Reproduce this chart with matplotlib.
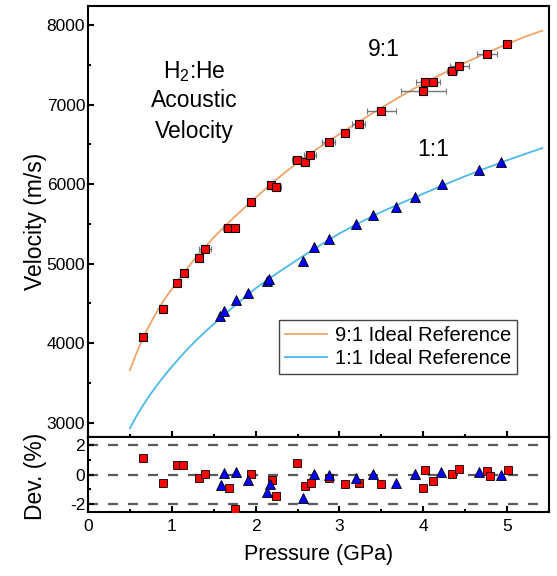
import numpy as np
import matplotlib
matplotlib.use('Agg')
import matplotlib.pyplot as plt
from matplotlib.ticker import MultipleLocator

plt.rcParams['font.family'] = ['Liberation Sans', 'DejaVu Sans']
plt.rcParams['mathtext.fontset'] = 'custom'
plt.rcParams['mathtext.rm'] = 'Liberation Sans'
plt.rcParams['mathtext.it'] = 'Liberation Sans:italic'

# 9:1 mixture - measured velocities (red squares)
p_91 = [0.66, 0.89, 1.06, 1.14, 1.32, 1.40, 1.67, 1.75, 1.94, 2.18, 2.24, 2.49, 2.59,
        2.65, 2.87, 3.07, 3.23, 3.50, 4.00, 4.02, 4.11, 4.34, 4.43, 4.76, 5.00]
v_91 = [4079, 4428, 4751, 4877, 5073, 5179, 5450, 5450, 5775, 5992, 5958, 6305, 6281,
        6365, 6532, 6645, 6755, 6915, 7170, 7279, 7279, 7425, 7488, 7631, 7757]
perr_91 = [0.0, 0.03, 0.03, 0.03, 0.03, 0.07, 0.06, 0.04, 0.04, 0.04, 0.06, 0.06, 0.05,
           0.07, 0.08, 0.04, 0.08, 0.17, 0.27, 0.11, 0.09, 0.06, 0.11, 0.12, 0.05]

# 1:1 mixture - measured velocities (blue triangles)
p_11 = [1.58, 1.62, 1.76, 1.91, 2.13, 2.16, 2.56, 2.70, 2.88, 3.20, 3.40, 3.67,
        3.90, 4.22, 4.66, 4.93]
v_11 = [4340, 4406, 4541, 4633, 4780, 4805, 5031, 5212, 5304, 5493, 5610, 5707,
        5840, 5996, 6176, 6273]

# ideal reference curves
p_ref91 = [0.50, 0.55, 0.60, 0.65, 0.70, 0.75, 0.80, 0.85, 0.90, 0.95, 1.00, 1.125,
           1.25, 1.375, 1.50, 1.625, 1.75, 1.875, 2.00, 2.125, 2.25, 2.375, 2.50,
           2.75, 3.00, 3.25, 3.50, 3.75, 4.00, 4.25, 4.50, 4.75, 5.00, 5.21, 5.42]
v_ref91 = [3660, 3800, 3930, 4050, 4160, 4260, 4355, 4445, 4530, 4608, 4680, 4860,
           5030, 5185, 5330, 5463, 5590, 5712, 5830, 5947, 6060, 6167, 6270,
           6455, 6630, 6798, 6960, 7117, 7265, 7400, 7528, 7648, 7762, 7852, 7930]
p_ref11 = [0.50, 0.55, 0.60, 0.65, 0.70, 0.75, 0.80, 0.85, 0.90, 0.95, 1.00, 1.10,
           1.20, 1.30, 1.40, 1.50, 1.625, 1.75, 1.875, 2.00, 2.25, 2.50, 2.75, 3.00,
           3.25, 3.50, 3.75, 4.00, 4.25, 4.50, 4.75, 5.00, 5.21, 5.42]
v_ref11 = [2930, 3030, 3122, 3208, 3289, 3366, 3439, 3509, 3576, 3641, 3704, 3825,
           3939, 4046, 4146, 4240, 4357, 4471, 4581, 4690, 4876, 5050, 5220, 5380,
           5520, 5650, 5768, 5880, 5992, 6100, 6202, 6300, 6378, 6453]

# deviations (%)
pd_91 = [0.66, 0.89, 1.06, 1.13, 1.32, 1.40, 1.68, 1.75, 1.94, 2.20, 2.24, 2.49, 2.59,
         2.66, 2.87, 3.06, 3.23, 3.50, 4.00, 4.02, 4.11, 4.34, 4.42, 4.76, 4.79, 5.01]
dev_91 = [1.14, -0.55, 0.68, 0.68, -0.23, 0.05, -0.92, -2.33, 0.07, -0.39, -1.49, 0.80,
          -0.80, -0.55, -0.27, -0.62, -0.55, -0.62, -0.89, 0.29, -0.46, 0.02, 0.36,
          0.23, -0.10, 0.29]
pd_11 = [1.59, 1.62, 1.76, 1.91, 2.14, 2.17, 2.57, 2.70, 2.88, 3.20, 3.40, 3.68,
         3.90, 4.21, 4.66, 4.93]
dev_11 = [-0.69, 0.11, 0.18, -0.39, -1.19, -0.62, -1.60, 0.07, -0.05, -0.23, 0.02,
          -0.55, 0.02, 0.14, 0.18, 0.0]

orange = '#EFA468'
blue = '#4BB9E9'

fig = plt.figure(figsize=(5.57, 5.76), dpi=100)
ax = fig.add_axes([0.158, 0.2413, 0.8277, 0.7483])
ax2 = fig.add_axes([0.158, 0.111, 0.8277, 0.1303])

ax.plot(p_ref91, v_ref91, color=orange, lw=1.3, label='9:1 Ideal Reference', zorder=2)
ax.plot(p_ref11, v_ref11, color=blue, lw=1.3, label='1:1 Ideal Reference', zorder=2)
ax.errorbar(p_91, v_91, xerr=perr_91, fmt='s', ms=5.5, mfc='#FF0000', mec='black', mew=0.8,
            ecolor='#777777', elinewidth=1, capsize=2.5, capthick=1, zorder=3)
ax.plot(p_11, v_11, '^', ms=6.5, mfc='#0000FF', mec='black', mew=0.6, zorder=3)

ax.text(0.23, 0.847, 'H$_2$:He', transform=ax.transAxes, ha='center', va='center', fontsize=16.5)
ax.text(0.23, 0.780, 'Acoustic', transform=ax.transAxes, ha='center', va='center', fontsize=16.5)
ax.text(0.23, 0.708, 'Velocity', transform=ax.transAxes, ha='center', va='center', fontsize=16.5)
ax.text(0.642, 0.90, '9:1', transform=ax.transAxes, ha='center', va='center', fontsize=16.5)
ax.text(0.748, 0.668, '1:1', transform=ax.transAxes, ha='center', va='center', fontsize=16.5)

leg = ax.legend(loc='lower right', bbox_to_anchor=(0.931, 0.146), fontsize=14.5,
                frameon=True, fancybox=False, edgecolor='#444444', framealpha=1,
                handlelength=2.1, handletextpad=0.4, borderpad=0.3, labelspacing=0.2,
                borderaxespad=0)
leg.get_frame().set_linewidth(1.0)

ax.set_xlim(0, 5.5)
ax.set_ylim(2820, 8240)
ax.set_ylabel('Velocity (m/s)', fontsize=16.5)
ax.yaxis.set_label_coords(-0.09, 0.5)
ax.tick_params(labelbottom=False)

for d in [-2, 0, 2]:
    ax2.axhline(d, color='#5a5a5a', lw=1.6, ls=(0, (4.5, 4.5)), zorder=1)
ax2.plot(pd_91, dev_91, 's', ms=5.5, mfc='#FF0000', mec='black', mew=0.6, zorder=3)
ax2.plot(pd_11, dev_11, '^', ms=6.5, mfc='#0000FF', mec='black', mew=0.6, zorder=3)
ax2.set_xlim(0, 5.5)
ax2.set_ylim(-2.57, 2.57)
ax2.set_yticks([-2, 0, 2])
ax2.set_yticklabels(['-2', '0', '2'])
ax2.set_ylabel('Dev. (%)', fontsize=16.5)
ax2.yaxis.set_label_coords(-0.09, 0.48)
ax2.set_xlabel('Pressure (GPa)', fontsize=15.5, labelpad=7)

for a in (ax, ax2):
    a.xaxis.set_major_locator(MultipleLocator(1))
    a.xaxis.set_minor_locator(MultipleLocator(0.5))
    for s in a.spines.values():
        s.set_linewidth(1.5)
    a.tick_params(which='both', direction='in', top=False, right=False, width=1.5)
    a.tick_params(which='major', length=4.5, labelsize=12.5)
    a.tick_params(which='minor', length=2.5)
    a.tick_params(axis='y', pad=2)
    a.tick_params(axis='x', pad=5)
ax.yaxis.set_major_locator(MultipleLocator(1000))
ax.yaxis.set_minor_locator(MultipleLocator(500))
ax2.yaxis.set_minor_locator(MultipleLocator(1))

fig.savefig('out.png', dpi=100)
